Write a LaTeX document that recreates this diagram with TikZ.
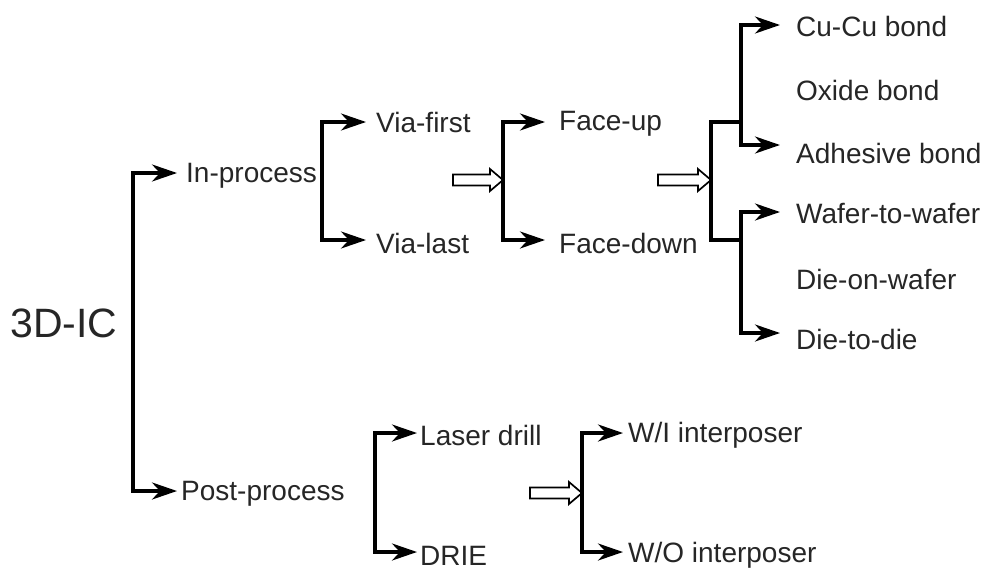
\documentclass[tikz,border=0pt]{standalone}
\usepackage{fontspec}
\setmainfont{Liberation Sans}
\usetikzlibrary{arrows.meta,calc}

% open (outlined) block arrow from #1 to the tip #2, both on one horizontal line
\newcommand\openarrow[2]{%
  \draw[hollow] ($(#1)+(0,-5.5)$) -- ($(#2)+(-13,-5.5)$) -- ($(#2)+(-13,-11)$)
    -- (#2) -- ($(#2)+(-13,11)$) -- ($(#2)+(-13,5.5)$) -- ($(#1)+(0,5.5)$) -- cycle;}

\begin{document}
\begin{tikzpicture}[x=1pt,y=-1pt,
  lbl/.style={anchor=west, inner ysep=0pt, inner xsep=#1,
              font=\fontsize{28}{30}\selectfont, text=black!85},
  lbl/.default=4pt,
  link/.style={line width=3.4pt, draw=black, line join=miter},
  arr/.style={link, -{Stealth[length=25pt,width=17pt,inset=8pt]}},
  hollow/.style={draw=black, line width=1.7pt, fill=white, line join=miter}]

\useasboundingbox (0,0) rectangle (990,571);

% root
\node[font=\fontsize{41}{44}\selectfont, text=black!85, inner sep=0pt] (root) at (64,323) {3D-IC};

% level 1
\coordinate (b1t) at (133,173);
\coordinate (b1b) at (133,491);
\node[lbl=9pt] (inproc) at (177,176) {In-process};
\node[lbl=4pt] (postproc) at (177,494) {Post-process};
\draw[arr] (b1b) -- (b1t) -- (b1t -| inproc.west);
\draw[arr] (b1t) -- (b1b) -- (b1b -| postproc.west);

% via first / via last
\coordinate (b2t) at (322,122);
\coordinate (b2b) at (322,240);
\node[lbl=10pt] (viafirst) at (366,122) {Via-first};
\node[lbl=10pt] (vialast) at (366,243) {Via-last};
\draw[arr] (b2b) -- (b2t) -- (b2t -| viafirst.west);
\draw[arr] (b2t) -- (b2b) -- (b2b -| vialast.west);

% face up / face down
\coordinate (ha) at (453,180);
\coordinate (b3m) at (503,180);
\coordinate (b3t) at (503,122);
\coordinate (b3b) at (503,240);
\node[lbl=14pt] (faceup) at (545,124) {Face-up};
\node[lbl=14pt] (facedown) at (545,243) {Face-down};
\openarrow{ha}{b3m}
\draw[arr] (b3b) -- (b3t) -- (b3t -| faceup.west);
\draw[arr] (b3t) -- (b3b) -- (b3b -| facedown.west);

% bonding and stacking options
\coordinate (hb) at (658,180);
\coordinate (b4m) at (711,180);
\coordinate (b4t) at (711,122);
\coordinate (b4b) at (711,240);
\coordinate (j5) at (741,122);
\coordinate (j6) at (741,240);
\openarrow{hb}{b4m}
\draw[link] (j5) -- (b4t) -- (b4b) -- (j6);

\coordinate (s5t) at (741,25);
\coordinate (s5b) at (741,145);
\node[lbl=16pt] (cucu) at (780,26) {Cu-Cu bond};
\node[lbl=16pt] (oxide) at (780,90) {Oxide bond};
\node[lbl=16pt] (adhesive) at (780,153) {Adhesive bond};
\draw[arr] (s5b) -- (s5t) -- (s5t -| cucu.west);
\draw[arr] (s5t) -- (s5b) -- (s5b -| adhesive.west);

\coordinate (s6t) at (741,212);
\coordinate (s6b) at (741,333);
\node[lbl=16pt] (w2w) at (780,213) {Wafer-to-wafer};
\node[lbl=16pt] (dow) at (780,279) {Die-on-wafer};
\node[lbl=16pt] (d2d) at (780,339) {Die-to-die};
\draw[arr] (s6b) -- (s6t) -- (s6t -| w2w.west);
\draw[arr] (s6t) -- (s6b) -- (s6b -| d2d.west);

% post-process branch
\coordinate (b7t) at (375,433);
\coordinate (b7b) at (375,552);
\node[lbl=3pt] (laser) at (417,435) {Laser drill};
\node[lbl=3pt] (drie) at (417,556) {DRIE};
\draw[arr] (b7b) -- (b7t) -- (b7t -| laser.west);
\draw[arr] (b7t) -- (b7b) -- (b7b -| drie.west);

\coordinate (hc) at (530,493);
\coordinate (b8m) at (582,493);
\coordinate (b8t) at (582,433);
\coordinate (b8b) at (582,552);
\node[lbl=5pt] (wi) at (623,435) {W/I interposer};
\node[lbl=5pt] (wo) at (623,555) {W/O interposer};
\openarrow{hc}{b8m}
\draw[arr] (b8b) -- (b8t) -- (b8t -| wi.west);
\draw[arr] (b8t) -- (b8b) -- (b8b -| wo.west);

\end{tikzpicture}
\end{document}
